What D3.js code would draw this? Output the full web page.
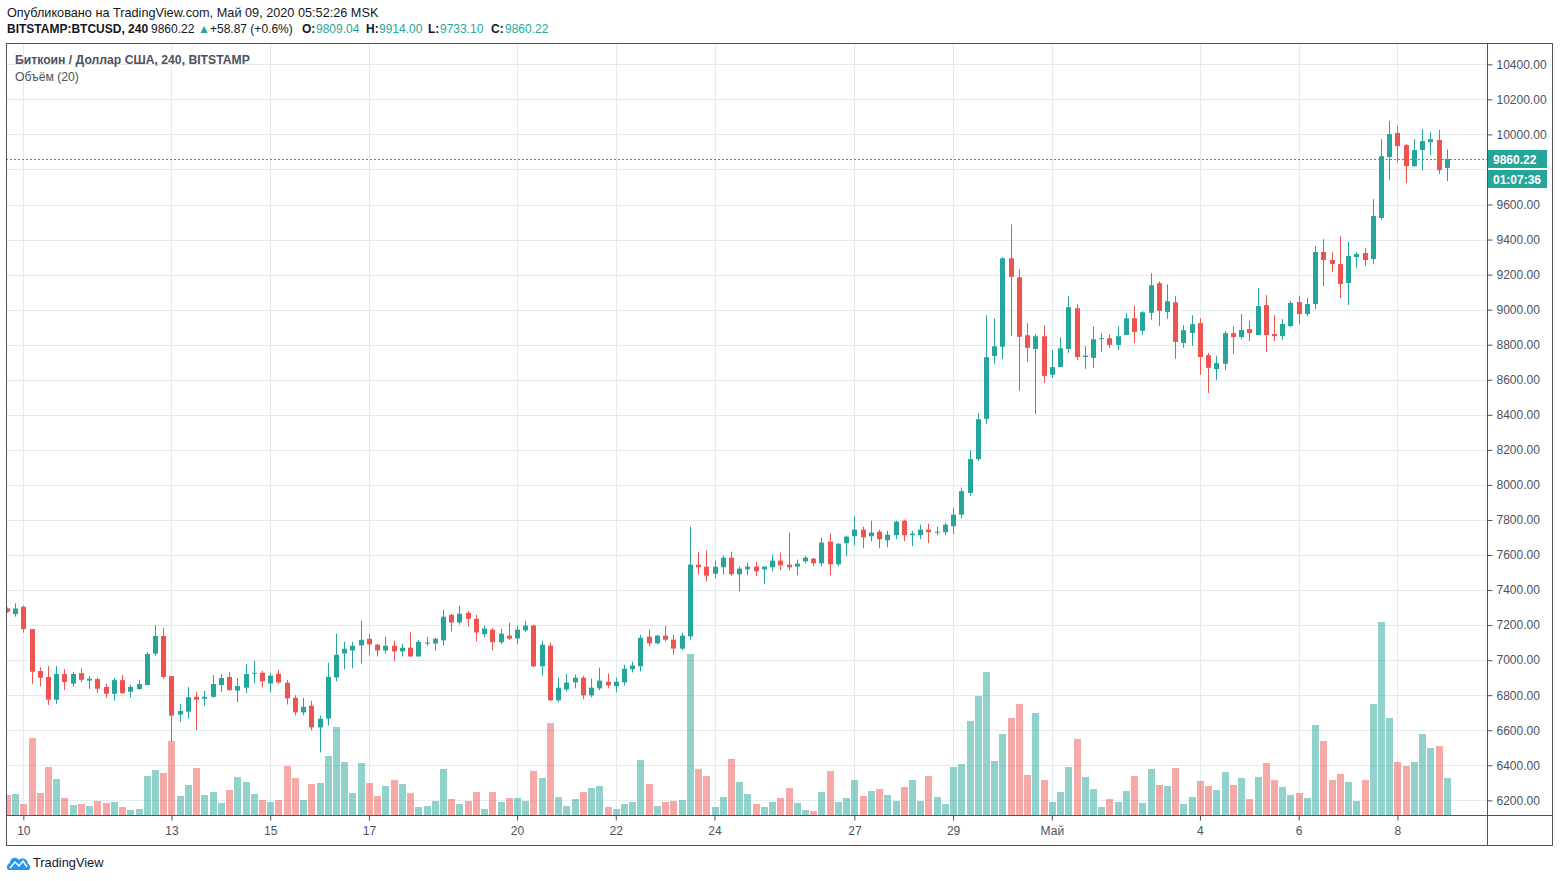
<!DOCTYPE html>
<html><head><meta charset="utf-8">
<script src="https://cdn.jsdelivr.net/npm/d3@7"></script>
<style>
html,body{margin:0;padding:0;background:#fff;}
svg{display:block;font-family:"Liberation Sans",Arial,sans-serif;}
</style></head><body>
<svg id="c" width="1560" height="881"></svg>
<script>
// ---- DATA (BITSTAMP:BTCUSD, 4h candles, 2020-04-09 16:00 .. 2020-05-09 00:00) ----
const open=[7295,7263,7305,7177,6938,6904,6774,6921,6866,6926,
6883,6892,6847,6808,6886,6820,6835,6858,7037,7138,
6909,6689,6706,6791,6780,6791,6858,6904,6826,6843,
6924,6928,6867,6922,6871,6785,6702,6740,6616,6667,
6901,7038,7055,7084,7122,7088,7055,7082,7050,7071,
7021,7097,7095,7113,7259,7215,7270,7236,7148,7174,
7102,7140,7124,7170,7197,6965,7083,6771,6833,6873,
6900,6799,6839,6877,6851,6873,6948,6965,7134,7096,
7140,7117,7066,7136,7545,7533,7493,7530,7585,7490,
7518,7534,7518,7530,7568,7545,7534,7564,7579,7553,
7676,7547,7667,7707,7745,7707,7733,7684,7713,7796,
7713,7713,7745,7730,7730,7764,7830,7954,8147,8377,
8736,8788,9293,9185,8854,8776,8848,8628,8673,8776,
9008,8730,8725,8833,8837,8799,8856,8951,8879,8982,
9151,8987,9042,8810,8867,8923,8740,8661,8691,8866,
8844,8889,8855,9026,8861,8849,8906,9043,8975,9032,
9329,9283,9260,9152,9300,9323,9289,9523,9871,10008,
9939,9819,9911,9956,9968,9809.04];
const high=[7300,7324,7311,7177,6959,6966,6966,6949,6932,6955,
6909,6902,6867,6898,6915,6858,6886,7046,7200,7183,
6909,6750,6847,6818,6824,6915,6921,6932,6898,6978,
6996,6939,6928,6945,6888,6800,6785,6768,6683,6985,
7151,7105,7105,7225,7151,7093,7133,7111,7093,7162,
7116,7133,7128,7287,7265,7310,7282,7259,7196,7183,
7180,7214,7197,7225,7202,7111,7100,6900,6923,6917,
6911,6894,6957,6923,6900,6974,6991,7145,7174,7145,
7197,7145,7157,7762,7619,7625,7568,7596,7619,7534,
7557,7562,7534,7602,7614,7728,7574,7596,7585,7699,
7722,7665,7711,7819,7762,7796,7745,7739,7796,7802,
7739,7773,7779,7762,7785,7870,7985,8198,8409,8968,
8951,9299,9487,9231,8923,8860,8911,8770,8843,9077,
9031,8791,8905,8866,8860,8905,8980,9025,8991,9208,
9162,9145,9077,8911,8968,8951,8753,8737,8878,8906,
8975,8935,9123,9083,8969,8946,9049,9078,9066,9363,
9403,9329,9420,9386,9329,9351,9631,9973,10076,10048,
9945,9973,10030,10013,10025,9914];
const low=[7270,7248,7157,6864,6852,6744,6751,6829,6848,6875,
6835,6814,6786,6769,6808,6786,6831,6858,7025,6894,
6535,6649,6666,6601,6740,6786,6818,6826,6761,6812,
6867,6844,6816,6865,6747,6685,6685,6599,6473,6627,
6879,6947,6953,6981,7027,7021,7038,6993,7021,7018,
7021,7082,7054,7084,7164,7202,7192,7107,7130,7056,
7090,7113,7090,7159,6960,6913,6765,6759,6822,6839,
6776,6788,6828,6839,6816,6856,6930,6936,7079,7090,
7105,7031,7056,7117,7488,7448,7467,7488,7479,7393,
7484,7479,7433,7507,7513,7513,7484,7553,7536,7536,
7484,7536,7593,7655,7638,7678,7638,7644,7690,7678,
7650,7690,7667,7713,7713,7718,7808,7937,8137,8348,
8691,8719,8850,8536,8702,8405,8582,8611,8673,8753,
8713,8662,8668,8759,8782,8770,8856,8810,8856,8942,
8907,8947,8719,8782,8793,8628,8525,8598,8655,8747,
8832,8821,8855,8758,8821,8826,8901,8918,8963,9003,
9135,9214,9066,9026,9237,9249,9260,9511,9739,9842,
9722,9814,9796,9882,9774,9733.10];
const close=[7276,7295,7177,6934,6900,6774,6921,6875,6921,6888,
6894,6837,6808,6886,6812,6847,6864,7035,7138,6904,
6683,6710,6789,6774,6791,6864,6898,6829,6852,6921,
6928,6879,6911,6873,6782,6702,6734,6616,6666,6905,
7031,7065,7082,7116,7090,7055,7082,7050,7071,7021,
7105,7100,7122,7248,7215,7265,7236,7158,7180,7102,
7151,7123,7174,7197,6965,7088,6771,6843,6872,6900,
6799,6843,6883,6856,6877,6951,6970,7128,7096,7140,
7117,7066,7140,7545,7530,7482,7533,7585,7490,7522,
7534,7507,7534,7568,7541,7530,7551,7585,7553,7671,
7547,7665,7705,7745,7701,7728,7690,7716,7790,7713,
7722,7745,7730,7733,7773,7830,7964,8147,8375,8729,
8791,9293,9187,8845,8782,8848,8622,8672,8780,9014,
8730,8738,8831,8837,8799,8848,8951,8873,8985,9139,
8993,9048,8816,8883,8917,8730,8668,8695,8866,8844,
8884,8866,9020,8855,8849,8918,9038,8975,9032,9329,
9283,9260,9146,9306,9317,9283,9534,9876,10002,9933,
9819,9911,9962,9973,9796,9860.22];
const volume=[20,21,11,77,22,48,36,17,10,11,
9,14,12,13,8,5,6,39,45,42,
74,19,30,47,20,23,12,25,38,33,
21,15,13,15,49,37,15,31,32,59,
88,53,22,52,32,19,29,35,31,22,
8,9,14,46,16,11,14,23,6,23,
13,17,17,14,44,37,92,18,9,16,
23,27,29,8,6,11,13,55,31,9,
13,14,15,161,46,39,8,18,56,33,
21,11,8,13,17,27,12,5,4,23,
44,13,17,35,19,24,26,20,14,28,
35,14,39,18,11,48,51,94,119,143,
54,81,97,111,40,102,35,13,23,48,
76,38,26,8,16,13,24,39,12,46,
30,29,47,11,18,34,29,25,43,30,
37,16,38,52,35,28,20,22,17,90,
74,35,41,33,14,35,111,193,97,53,
49,53,81,67,69,37];
const priceTicks=[6200,6400,6600,6800,7000,7200,7400,7600,7800,8000,8200,8400,8600,8800,9000,9200,9400,9600,9800,10000,10200,10400];
const priceLabelTicks=[6200,6400,6600,6800,7000,7200,7400,7600,7800,8000,8200,8400,8600,8800,9000,9200,9400,9600,10000,10200,10400];
const timeTickIndex=[2,20,32,44,62,74,86,103,115,127,145,157,169];
const timeTickLabels=["10","13","15","17","20","22","24","27","29","Май","4","6","8"];
const lastPrice=9860.22, countdown="01:07:36";

// ---- LAYOUT ----
const N=open.length;
const L=6,R=1487,T=43,B=815,RB=1553,BB=845;
const UP="#26a69a", DN="#ef5350", GRID="#e3eaf0", AX="#50535e", TXT="#4c525e";
const svg=d3.select("#c");
const x=d3.scaleBand().domain(d3.range(N)).range([2.786,1450.9]);
const cx=i=>Math.round(x(i)+x.bandwidth()/2);
const y=d3.scaleLinear().domain([6200,10400]).range([800.35,64.3]);
const yv=d3.scaleLinear().domain([0,d3.max(volume)]).range([B,622]);

svg.append("defs").append("clipPath").attr("id","plot").append("rect")
  .attr("x",L+0.5).attr("y",T).attr("width",R-L-0.5).attr("height",B-T);

// grid
const g=svg.append("g");
g.selectAll(".hg").data(priceTicks).join("line")
  .attr("x1",L).attr("x2",R).attr("y1",d=>Math.round(y(d))+0.5).attr("y2",d=>Math.round(y(d))+0.5)
  .attr("stroke",GRID).attr("stroke-width",1);
g.selectAll(".vg").data(timeTickIndex).join("line")
  .attr("x1",d=>cx(d)+0.5).attr("x2",d=>cx(d)+0.5).attr("y1",T).attr("y2",B)
  .attr("stroke",GRID).attr("stroke-width",1);

const plot=svg.append("g").attr("clip-path","url(#plot)");
const idx=d3.range(N);
const isUp=i=>close[i]>=open[i];
// volume
plot.selectAll(".vol").data(idx).join("rect")
  .attr("x",i=>cx(i)-3).attr("width",7)
  .attr("y",i=>yv(volume[i])).attr("height",i=>B-yv(volume[i]))
  .attr("fill",i=>isUp(i)?UP:DN).attr("fill-opacity",0.5);
// wicks
plot.selectAll(".wick").data(idx).join("line")
  .attr("x1",i=>cx(i)+0.5).attr("x2",i=>cx(i)+0.5)
  .attr("y1",i=>y(high[i])).attr("y2",i=>y(low[i]))
  .attr("stroke",i=>isUp(i)?UP:DN).attr("stroke-width",1);
// bodies
plot.selectAll(".body").data(idx).join("rect")
  .attr("x",i=>cx(i)-2).attr("width",5)
  .attr("y",i=>y(Math.max(open[i],close[i])))
  .attr("height",i=>Math.max(1,Math.abs(y(open[i])-y(close[i]))))
  .attr("fill",i=>isUp(i)?UP:DN);

// last price line
svg.append("line").attr("x1",L).attr("x2",R)
  .attr("y1",Math.round(y(lastPrice))+0.5).attr("y2",Math.round(y(lastPrice))+0.5)
  .attr("stroke",UP).attr("stroke-width",1).attr("stroke-dasharray","2,2");

// frame
svg.append("rect").attr("x",L+0.5).attr("y",T+0.5).attr("width",RB-L-1).attr("height",BB-T)
  .attr("fill","none").attr("stroke",AX).attr("stroke-width",1);
svg.append("line").attr("x1",R+0.5).attr("x2",R+0.5).attr("y1",T).attr("y2",BB).attr("stroke",AX);
svg.append("line").attr("x1",L).attr("x2",RB).attr("y1",B+0.5).attr("y2",B+0.5).attr("stroke",AX);

// price axis
const ya=svg.append("g").attr("transform",`translate(${R+0.5},0)`)
  .call(d3.axisRight(y).tickValues(priceLabelTicks).tickFormat(d3.format(".2f")).tickSize(5).tickPadding(4));
ya.select(".domain").remove();
ya.selectAll(".tick line").attr("stroke",AX);
ya.selectAll(".tick text").attr("fill",TXT).style("font-size","12px").style("font-family","Liberation Sans, Arial, sans-serif");

// time axis
const xa=svg.append("g").attr("transform",`translate(0.5,${B+0.5})`)
  .call(d3.axisBottom(x).tickValues(timeTickIndex).tickFormat((d,k)=>timeTickLabels[k]).tickSize(5).tickPadding(6));
xa.select(".domain").remove();
xa.selectAll(".tick line").attr("stroke",AX);
xa.selectAll(".tick text").attr("fill",TXT).style("font-size","12px").style("font-family","Liberation Sans, Arial, sans-serif");

// price tags
const ty=Math.round(y(lastPrice));
svg.append("rect").attr("x",R+1).attr("y",ty-9).attr("width",59).attr("height",18).attr("fill",UP);
svg.append("text").attr("x",R+6).attr("y",ty+4.5).attr("fill","#fff").attr("font-weight","bold")
  .attr("font-size",12).text(d3.format(".2f")(lastPrice));
svg.append("rect").attr("x",R+1).attr("y",ty+11).attr("width",59).attr("height",18).attr("fill",UP);
svg.append("text").attr("x",R+6).attr("y",ty+24.5).attr("fill","#fff").attr("font-weight","bold")
  .attr("font-size",12).text(countdown);

// legends in plot
svg.append("text").attr("x",15).attr("y",64).attr("fill",TXT).attr("font-size",12.2).attr("font-weight","bold")
  .text("Биткоин / Доллар США, 240, BITSTAMP");
svg.append("text").attr("x",15).attr("y",81).attr("fill",TXT).attr("font-size",12.2).text("Объём (20)");

// header
svg.append("text").attr("x",7).attr("y",17).attr("fill","#131722").attr("font-size",12.7)
  .text("Опубликовано на TradingView.com, Май 09, 2020 05:52:26 MSK");
const h2=svg.append("text").attr("x",7).attr("y",33).attr("font-size",12).attr("fill","#131722");
const parts=[["BITSTAMP:BTCUSD, 240","#131722","bold",7],["9860.22","#131722","normal",151],
 ["▲",UP,"normal",198],["+58.87 (+0.6%)","#131722","normal",210],
 ["O:","#131722","bold",302],["9809.04",UP,"normal",316],
 ["H:","#131722","bold",366],["9914.00",UP,"normal",379],
 ["L:","#131722","bold",428],["9733.10",UP,"normal",440],
 ["C:","#131722","bold",491],["9860.22",UP,"normal",505]];
parts.forEach(p=>h2.append("tspan").attr("x",p[3]).attr("fill",p[1]).attr("font-weight",p[2]).text(p[0]));

// logo
const lg=svg.append("g").attr("transform","translate(7,855)");
lg.append("path").attr("d","M2,15 C-1,15 -1,9 3,8 C3,3 9,1 12,5 C15,2 21,4 21,9 C24,10 24,15 21,15 Z").attr("fill","#2196f3");
lg.append("path").attr("d","M3,13 L8,7 L12,11 L16,6 L20,12").attr("fill","none").attr("stroke","#fff").attr("stroke-width",1.5);
svg.append("text").attr("x",33).attr("y",867).attr("fill","#131722").attr("font-size",12.8).text("TradingView");
</script>
</body></html>
